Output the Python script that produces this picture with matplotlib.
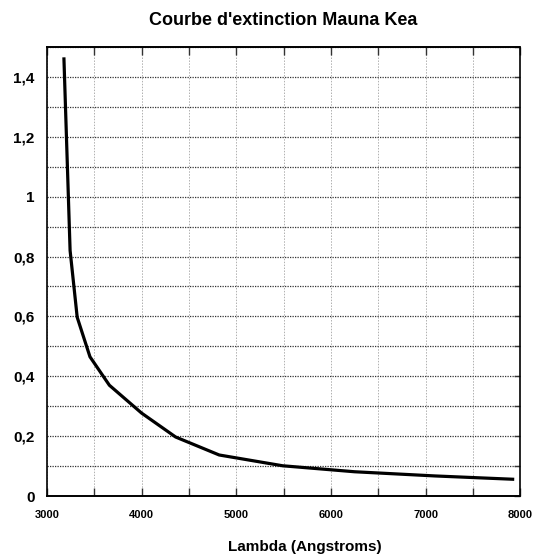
import matplotlib
matplotlib.use("Agg")
import matplotlib.pyplot as plt
from matplotlib.ticker import MultipleLocator, FuncFormatter

plt.rcParams["font.family"] = ["Liberation Sans", "DejaVu Sans"]
plt.rcParams["font.weight"] = "bold"

# Mauna Kea extinction curve (magnitudes per airmass vs wavelength)
wavelength = [3180, 3245, 3320, 3455, 3660, 4000, 4360, 4820, 5490, 6250, 7100, 7920]
extinction = [1.46, 0.82, 0.597, 0.465, 0.37, 0.277, 0.197, 0.137, 0.101, 0.081, 0.067, 0.056]

fig = plt.figure(figsize=(5.33, 5.59), dpi=100)
ax = fig.add_axes([0.088, 0.1127, 0.888, 0.8033])

ax.plot(wavelength, extinction, color="black", lw=2.3, solid_joinstyle="miter")

ax.set_xlim(3000, 8000)
ax.set_ylim(0, 1.5)

ax.xaxis.set_major_locator(MultipleLocator(1000))
ax.xaxis.set_minor_locator(MultipleLocator(500))
ax.yaxis.set_major_locator(MultipleLocator(0.2))
ax.yaxis.set_minor_locator(MultipleLocator(0.1))
ax.yaxis.set_major_formatter(FuncFormatter(lambda v, _: f"{v:g}".replace(".", ",")))

# vertical grid light grey, horizontal grid dark dotted
ax.grid(which="both", axis="x", color="#b0b0b0", ls=(0, (1.5, 1.5)), lw=0.7)
ax.grid(which="both", axis="y", color="#333333", ls=(0, (1, 1)), lw=0.9)

ax.tick_params(which="both", direction="in", top=True, right=True, left=False,
               width=1, color="#333333")
ax.tick_params(which="both", axis="x", length=6)
ax.tick_params(which="both", axis="y", length=4)
ax.tick_params(axis="x", labelsize=8, pad=10)
ax.tick_params(axis="y", labelsize=11, pad=9)

for side in ("left", "right"):
    ax.spines[side].set_linewidth(1.2)
for side in ("top", "bottom"):
    ax.spines[side].set_linestyle((0, (1, 1)))
    ax.spines[side].set_linewidth(1.4)

ax.set_title("Courbe d'extinction Mauna Kea", fontsize=13, fontweight="bold", pad=16)
ax.set_xlabel("Lambda (Angstroms)", fontsize=11, fontweight="bold")
ax.xaxis.set_label_coords(0.545, -0.097)

fig.savefig("out.png", dpi=100)
